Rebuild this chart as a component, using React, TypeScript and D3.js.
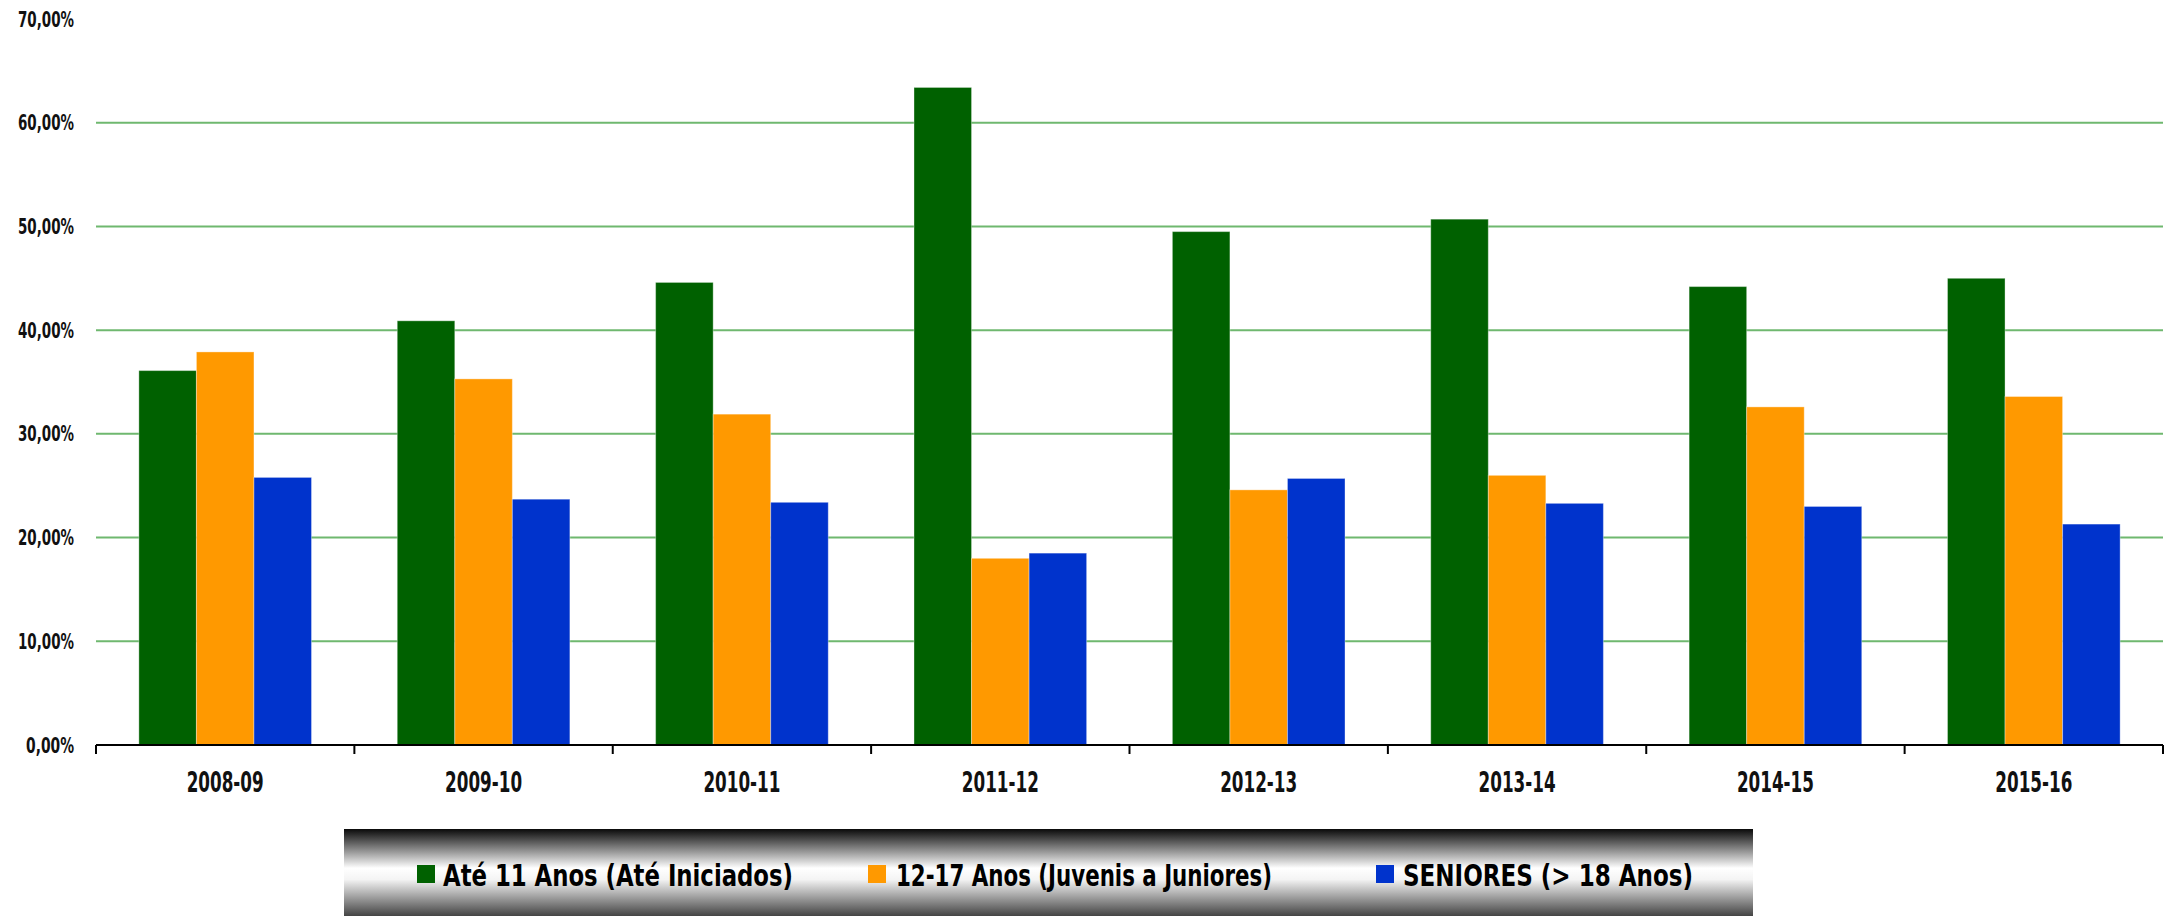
import React from 'react';
import * as d3 from 'd3';

const width = 2164;
const height = 916;
const margin = { top: 19, right: 1, bottom: 171, left: 96 };

const seasons = ['2008-09', '2009-10', '2010-11', '2011-12', '2012-13', '2013-14', '2014-15', '2015-16'];
const series = ['Até 11 Anos (Até Iniciados)', '12-17 Anos (Juvenis a Juniores)', 'SENIORES (> 18 Anos)'];
const colors = ['#006100', '#ff9900', '#0033cc'];

const ate11 = [36.1, 40.9, 44.6, 63.4, 49.5, 50.7, 44.2, 45.0];
const juvenis = [37.9, 35.3, 31.9, 18.0, 24.6, 26.0, 32.6, 33.6];
const seniores = [25.8, 23.7, 23.4, 18.5, 25.7, 23.3, 23.0, 21.3];
const values = [ate11, juvenis, seniores];

const yTicks = [0, 10, 20, 30, 40, 50, 60, 70];

const font = '"Liberation Sans Narrow", "DejaVu Sans Condensed", "Roboto", sans-serif';

const fmt = (v: number) => v.toFixed(2).replace('.', ',') + '%';

export default function App() {
  const baseline = height - margin.bottom;
  const x = d3.scaleBand().domain(seasons).range([margin.left, width - margin.right]);
  const xInner = d3
    .scaleBand()
    .domain(series)
    .range([0, x.bandwidth()])
    .paddingInner(0)
    .paddingOuter(0.745);
  const y = d3.scaleLinear().domain([0, 70]).range([baseline, margin.top]);

  const boundaries = seasons.map(s => x(s) as number).concat([width - margin.right]);

  // legend box
  const lx = 344;
  const ly = 829;
  const lw = 1409;
  const lh = 87;
  const legendItems = [
    { sq: 417, tx: 443, tw: 350 },
    { sq: 868, tx: 896, tw: 376 },
    { sq: 1376, tx: 1403, tw: 290 }
  ];

  return (
    <svg
      width={width}
      height={height}
      style={{ position: 'absolute', left: 0, top: 0, display: 'block', background: '#fff' }}
    >
      <defs>
        <linearGradient id="legendGrad" x1="0" y1="0" x2="0" y2="1">
          <stop offset="0" stopColor="#0a0a0a" />
          <stop offset="0.06" stopColor="#2a2a2a" />
          <stop offset="0.45" stopColor="#ffffff" />
          <stop offset="0.58" stopColor="#f4f4f4" />
          <stop offset="1" stopColor="#444444" />
        </linearGradient>
      </defs>

      {/* gridlines */}
      {yTicks
        .filter(t => t > 0 && t < 70)
        .map(t => (
          <line
            key={'g' + t}
            x1={margin.left}
            x2={width - margin.right}
            y1={y(t)}
            y2={y(t)}
            stroke="#6fb86f"
            strokeWidth={2}
          />
        ))}

      {/* y labels */}
      {yTicks.map(t => (
        <text
          key={'yl' + t}
          x={74}
          y={y(t)}
          dy="0.36em"
          textAnchor="end"
          fontFamily={font}
          fontSize={21}
          fontWeight="bold"
          fill="#111"
          textLength={t === 0 ? 48 : 56}
          lengthAdjust="spacingAndGlyphs"
        >
          {fmt(t)}
        </text>
      ))}

      {/* bars */}
      {seasons.map((s, i) => (
        <g key={s} transform={`translate(${x(s)},0)`}>
          {series.map((name, j) => (
            <rect
              key={name}
              x={xInner(name)}
              y={y(values[j][i])}
              width={xInner.bandwidth()}
              height={baseline - y(values[j][i])}
              fill={colors[j]}
              stroke="rgba(255,255,255,0.35)"
              strokeWidth={1}
            />
          ))}
        </g>
      ))}

      {/* x axis */}
      <line x1={margin.left} x2={width - margin.right} y1={baseline} y2={baseline} stroke="#000" strokeWidth={2} />
      {boundaries.map((b, i) => (
        <line key={'t' + i} x1={b} x2={b} y1={baseline} y2={baseline + 9} stroke="#000" strokeWidth={2} />
      ))}
      {seasons.map(s => (
        <text
          key={'xl' + s}
          x={(x(s) as number) + x.bandwidth() / 2}
          y={792}
          textAnchor="middle"
          fontFamily={font}
          fontSize={29}
          fontWeight="bold"
          fill="#111"
          textLength={77}
          lengthAdjust="spacingAndGlyphs"
        >
          {s}
        </text>
      ))}

      {/* legend */}
      <rect x={lx} y={ly} width={lw} height={lh} fill="url(#legendGrad)" />
      {series.map((name, j) => (
        <g key={'lg' + j}>
          <rect x={legendItems[j].sq} y={865} width={18} height={18} fill={colors[j]} />
          <text
            x={legendItems[j].tx}
            y={886}
            fontFamily={font}
            fontSize={31}
            fontWeight="bold"
            fill="#000"
            textLength={legendItems[j].tw}
            lengthAdjust="spacingAndGlyphs"
          >
            {name}
          </text>
        </g>
      ))}
    </svg>
  );
}
